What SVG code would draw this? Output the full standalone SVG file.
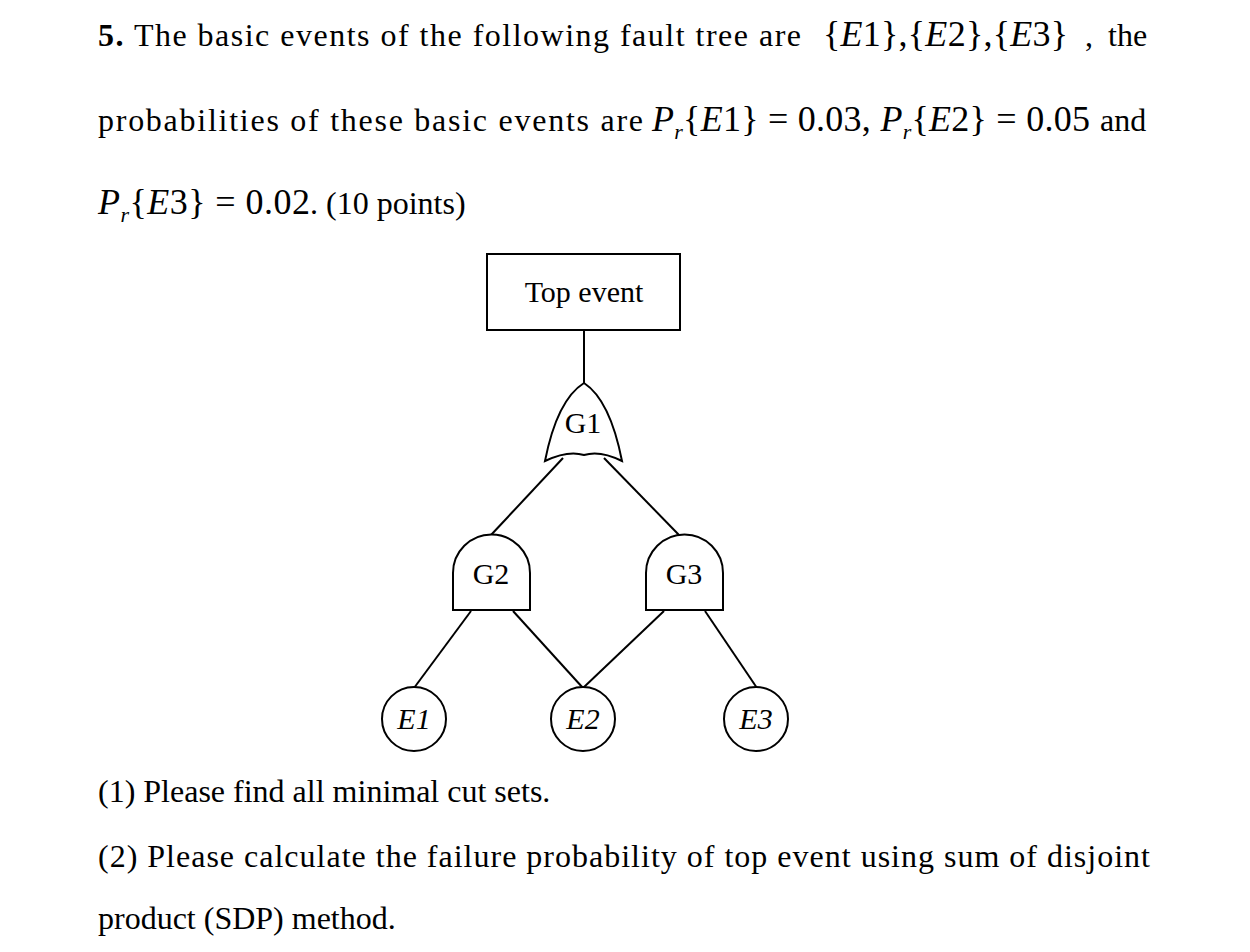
<svg xmlns="http://www.w3.org/2000/svg" width="1250" height="952" viewBox="0 0 1250 952">
<style>
text{font-family:"Liberation Serif","Times New Roman",serif;font-size:32px;fill:#000}
.m{font-size:36px}
.i{font-style:italic}
.sh{fill:#fff;stroke:#000;stroke-width:2}
.c line{stroke:#000;stroke-width:2}
.lb{font-size:30px;text-anchor:middle}
</style>
<rect width="1250" height="952" fill="#fff"/>
<text x="98" y="46" textLength="703" lengthAdjust="spacing"><tspan font-weight="bold">5.</tspan> The basic events of the following fault tree are</text>
<text class="m" x="823" y="46" textLength="245" lengthAdjust="spacing">{<tspan class="i">E</tspan>1},{<tspan class="i">E</tspan>2},{<tspan class="i">E</tspan>3}</text>
<text x="1085" y="46">,</text>
<text x="1108" y="46">the</text>
<text x="98" y="131" textLength="545" lengthAdjust="spacing">probabilities of these basic events are</text>
<text class="m" x="652" y="131" textLength="438" lengthAdjust="spacing"><tspan class="i">P</tspan><tspan class="i" font-size="22" dy="8">r</tspan><tspan dy="-8">{</tspan><tspan class="i">E</tspan>1} = 0.03, <tspan class="i">P</tspan><tspan class="i" font-size="22" dy="8">r</tspan><tspan dy="-8">{</tspan><tspan class="i">E</tspan>2} = 0.05</text>
<text x="1100" y="131">and</text>
<text class="m" x="98" y="214" textLength="212" lengthAdjust="spacing"><tspan class="i">P</tspan><tspan class="i" font-size="22" dy="8">r</tspan><tspan dy="-8">{</tspan><tspan class="i">E</tspan>3} = 0.02</text>
<text x="310" y="214">. (10 points)</text>
<g class="c" id="connectors">
<line x1="584" y1="330" x2="584" y2="383"/>
<line x1="563" y1="458" x2="491" y2="535"/>
<line x1="604" y1="458" x2="679" y2="535"/>
<line x1="471" y1="611" x2="414" y2="688"/>
<line x1="513" y1="611" x2="583" y2="688"/>
<line x1="664" y1="611" x2="583" y2="688"/>
<line x1="705" y1="611" x2="757" y2="688"/>
</g>
<g id="top"><rect class="sh" x="487" y="254" width="193" height="76"/><text class="lb" x="584" y="302">Top event</text></g>
<g id="G1"><path class="sh" d="M584 383 Q610 400 622 461 Q600 450 584 455 Q568 450 545 461 Q557 400 584 383 Z"/><text class="lb" x="583" y="433">G1</text></g>
<g id="G2"><path class="sh" d="M453 610 V573 A38.5 38.5 0 0 1 530 573 V610 Z"/><text class="lb" x="491" y="584">G2</text></g>
<g id="G3"><path class="sh" d="M646 610 V573 A38.5 38.5 0 0 1 723 573 V610 Z"/><text class="lb" x="684" y="584">G3</text></g>
<g id="E1"><circle class="sh" cx="414" cy="719" r="32"/><text class="lb i" x="414" y="729">E1</text></g>
<g id="E2"><circle class="sh" cx="583" cy="719" r="32"/><text class="lb i" x="583" y="729">E2</text></g>
<g id="E3"><circle class="sh" cx="756" cy="719" r="32"/><text class="lb i" x="756" y="729">E3</text></g>
<text x="98" y="802">(1) Please find all minimal cut sets.</text>
<text x="98" y="867" textLength="1052" lengthAdjust="spacing">(2) Please calculate the failure probability of top event using sum of disjoint</text>
<text x="98" y="929">product (SDP) method.</text>
</svg>
